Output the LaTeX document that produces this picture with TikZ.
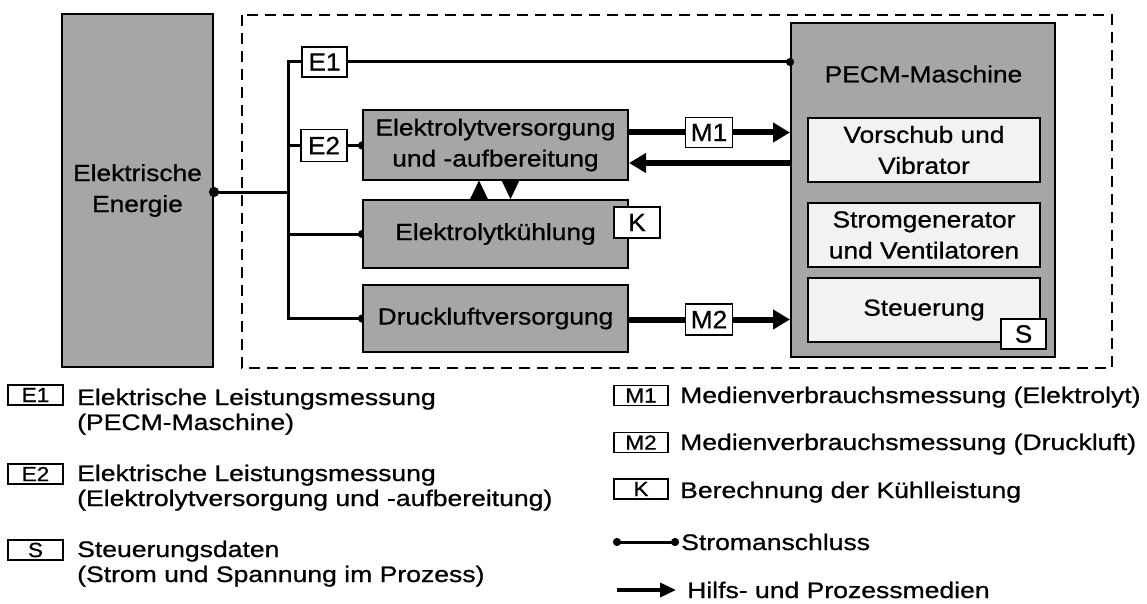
\documentclass[tikz,border=0pt]{standalone}
\usepackage{fontspec}
\setmainfont{Liberation Sans}
\newfontfamily\boxsans[FakeStretch=1.13,FakeBold=0.8]{Liberation Sans}
\newfontfamily\tagsans[FakeStretch=1.05,FakeBold=0.8]{Liberation Sans}
\newfontfamily\legsans[FakeStretch=1.18,FakeBold=0.8]{Liberation Sans}
\newfontfamily\legtagsans[FakeStretch=1.1,FakeBold=0.8]{Liberation Sans}
\usetikzlibrary{arrows.meta,backgrounds}
\definecolor{unitgray}{gray}{0.65}
\definecolor{partgray}{gray}{0.95}

\begin{document}
\begin{tikzpicture}[x=1pt,y=-1pt,
  txt/.style={font=\boxsans\fontsize{23.3}{31}\selectfont, inner sep=0pt},
  unit/.style={draw, line width=2pt, fill=unitgray, inner sep=0pt, align=center,
    font=\boxsans\fontsize{23.3}{31}\selectfont},
  part/.style={draw, line width=2pt, fill=partgray, inner sep=0pt, align=center,
    minimum width=232pt, minimum height=64pt, font=\boxsans\fontsize{23.3}{31}\selectfont},
  tag/.style={draw, line width=1.8pt, fill=white, inner sep=0pt, minimum height=30pt,
    font=\tagsans\fontsize{25}{29}\selectfont},
  ltag/.style={draw, line width=1.5pt, fill=white, inner sep=0pt, minimum height=20pt,
    font=\legtagsans\fontsize{20.5}{21}\selectfont},
  ltxt/.style={anchor=base west, inner sep=0pt, font=\legsans\fontsize{22.5}{25}\selectfont},
  wire/.style={line width=3pt},
  dotend/.style={-{Circle[length=8pt]}, shorten >=-4pt},
  media/.style={line width=6pt},
  flow/.style={line width=6pt, -{Triangle[length=17pt,width=19pt]}},
  tri/.style={line width=1pt, -{Triangle[length=19pt,width=18pt]}},
  frame/.style={line width=2pt, dash pattern=on 11pt off 7pt},
]
\useasboundingbox (0,0) rectangle (1147,604);

% system boundary
\draw[frame] (242,15) rectangle (1112,368);

% supply unit
\node[unit, minimum width=151pt, minimum height=353pt] (energie) at (137.5,190.5) {Elektrische\\Energie};

% machine with its sub-units
\node[unit, minimum width=264pt, minimum height=334pt] (pecm) at (923,190) {};
\node[txt] (pecmlabel) at (923.5,74) {PECM-Maschine};
\node[part] (vorschub) at (924,150) {Vorschub und\\Vibrator};
\node[part] (stromgen) at (924,235) {Stromgenerator\\und Ventilatoren};
\node[part] (steuer) at (924,310) {Steuerung};
\node[tag, minimum width=45pt] (s) at (1023.5,334) {S};

% peripheral units
\node[unit, minimum width=265pt, minimum height=69pt] (versorg) at (495.5,145) {Elektrolytversorgung\\und -aufbereitung};
\node[unit, minimum width=265pt, minimum height=68pt] (kuehl) at (495.5,234) {Elektrolytkühlung};
\node[unit, minimum width=265pt, minimum height=67pt] (druck) at (495.5,318.5) {Druckluftversorgung};
\node[tag, minimum width=46pt, minimum height=31pt] (k) at (637,222.5) {K};

% measuring points
\node[tag, minimum width=45pt] (e1) at (324.5,62) {E1};
\node[tag, minimum width=46pt, minimum height=32pt] (e2) at (324,145.5) {E2};
\node[tag, minimum width=47pt] (m1) at (709,132.5) {M1};
\node[tag, minimum width=47pt, minimum height=31pt] (m2) at (709,319.5) {M2};

% power bus
\coordinate (bus) at (288,192);
\coordinate (back) at (700,163);
\begin{scope}[on background layer]
  \draw[wire, dotend] (e1.west) -- (e1.west -| bus) |- (druck.west);
  \draw[wire] (e2.west -| bus) -- (e2.west);
  \draw[wire, dotend] (e2.east) -- (versorg.west |- e2.east);
  \draw[wire, dotend] (kuehl.west -| bus) -- (kuehl.west);
\end{scope}
\draw[wire, {Circle[length=10pt]}-, shorten <=-5pt] (energie.east |- bus) -- (bus);
\draw[wire, dotend] (e1.east) -- (pecm.west |- e1.east);

% media flows
\draw[media] (versorg.east |- m1) -- (m1.west);
\draw[flow] (m1.east) -- (pecm.west |- m1);
\draw[flow] (pecm.west |- back) -- (versorg.east |- back);
\draw[media] (druck.east |- m2) -- (m2.west);
\draw[flow] (m2.east) -- (pecm.west |- m2);
\draw[tri] ([xshift=-16.5pt]kuehl.north) -- ([xshift=-16.5pt]versorg.south);
\draw[tri] ([xshift=15pt]versorg.south) -- ([xshift=15pt]kuehl.north);

% legend, left column
\node[ltag, minimum width=55pt] (le1) at (35.5,395) {E1};
\node[ltxt] (le1a) at (77,405) {Elektrische Leistungsmessung};
\node[ltxt] (le1b) at (77,430) {(PECM-Maschine)};
\node[ltag, minimum width=55pt] (le2) at (35.5,474) {E2};
\node[ltxt] (le2a) at (77,481) {Elektrische Leistungsmessung};
\node[ltxt] (le2b) at (77,506) {(Elektrolytversorgung und -aufbereitung)};
\node[ltag, minimum width=55pt] (ls) at (35.5,550) {S};
\node[ltxt] (lsa) at (77,557) {Steuerungsdaten};
\node[ltxt] (lsb) at (77,582) {(Strom und Spannung im Prozess)};

% legend, right column
\node[ltag, minimum width=54pt] (lm1) at (641,395.5) {M1};
\node[ltxt] (lm1a) at (680,403) {Medienverbrauchsmessung (Elektrolyt)};
\node[ltag, minimum width=54pt] (lm2) at (641,442.5) {M2};
\node[ltxt] (lm2a) at (680,450) {Medienverbrauchsmessung (Druckluft)};
\node[ltag, minimum width=54pt] (lk) at (641,489) {K};
\node[ltxt] (lka) at (680,498) {Berechnung der Kühlleistung};
\coordinate (sa) at (617,542);
\coordinate (sb) at (675,542);
\draw[wire, {Circle[length=8pt]}-{Circle[length=8pt]}, shorten <=-4pt, shorten >=-4pt] (sa) -- (sb);
\node[ltxt] (lsta) at (681,550) {Stromanschluss};
\coordinate (ha) at (617,590);
\coordinate (hb) at (676,590);
\draw[line width=3.5pt, -{Triangle[length=16pt,width=14pt]}] (ha) -- (hb);
\node[ltxt] (lha) at (687,598) {Hilfs- und Prozessmedien};
\end{tikzpicture}
\end{document}
